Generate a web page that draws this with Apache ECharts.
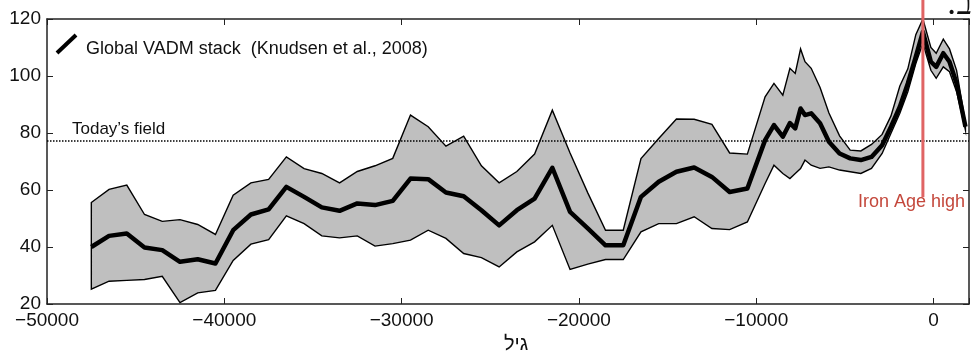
<!DOCTYPE html>
<html>
<head>
<meta charset="utf-8">
<script src="https://cdn.jsdelivr.net/npm/echarts@6/dist/echarts.min.js"></script>
<style>
  html, body { margin: 0; padding: 0; background: #fff; }
  #chart { width: 975px; height: 351px; }
</style>
</head>
<body>
<div id="chart"></div>
<script>
// age (years)
const ages = [
  -47500, -46500, -45500, -44500, -43500, -42500, -41500, -40500, -39500, -38500,
  -37500, -36500, -35500, -34500, -33500, -32500, -31500, -30500, -29500, -28500,
  -27500, -26500, -25500, -24500, -23500, -22500, -21500, -20500, -19500, -18500,
  -17500, -16500, -15500, -14500, -13500, -12500, -11500, -10500, -9500, -9000,
  -8500, -8100, -7800, -7500, -7250, -6900, -6400, -5900, -5300, -4700,
  -4100, -3500, -2900, -2400, -1900, -1450, -1000, -600, -150, 150,
  550, 900, 1300, 1800
];
// global VADM stack, mean
const vadmMean = [
  40, 43.9, 44.7, 39.8, 38.9, 34.8, 35.7, 34.2, 45.9, 51.4,
  53.2, 61.1, 57.6, 53.9, 52.7, 55.3, 54.7, 56.2, 64, 63.8,
  59.1, 57.8, 52.9, 47.6, 52.9, 57, 67.8, 52.3, 46.5, 40.6,
  40.6, 57.6, 62.9, 66.4, 67.9, 64.6, 59.3, 60.5, 77.5, 82.8,
  78.7, 83.5, 81.6, 88.6, 86.3, 86.9, 83.4, 76.9, 72.8, 71.1,
  70.5, 71.6, 75.7, 82.2, 89.2, 97.4, 106.8, 115.5, 105, 103.2,
  108, 105, 97.4, 82.2
];
// upper envelope
const vadmUpper = [
  55.6, 60.2, 61.7, 51.4, 49, 49.6, 47.9, 44.4, 58.2, 62.5,
  63.7, 71.6, 67.5, 65.8, 62.5, 66.5, 68.5, 71.1, 86.3, 82.2,
  75.4, 78.9, 68.5, 62.5, 66.5, 72.6, 88, 73, 59, 45.9,
  45.9, 71, 78.1, 84.9, 84.8, 83, 73, 72.6, 92.7, 97.4,
  93.3, 102.7, 100.9, 109.5, 105, 102.7, 96, 87, 79, 74,
  73.7, 76, 79.5, 86, 96.5, 102.5, 114.5, 120, 110, 108,
  112.9, 109.5, 102, 83.4
];
// lower envelope
const vadmLower = [
  25.2, 28, 28.3, 28.6, 29.7, 20.5, 23.9, 24.8, 35.3, 41,
  42.6, 50.9, 48.2, 43.9, 43.2, 43.9, 40.3, 41.2, 42.4, 45.9,
  43, 37.7, 36.3, 33, 38.3, 41.8, 47.6, 32.1, 34, 35.6,
  35.6, 45.3, 48.2, 48.2, 50.6, 46.5, 46.1, 48.8, 62.3, 68.7,
  65.8, 64, 65.8, 67.5, 70.5, 68.7, 67.6, 68.1, 67, 66.4,
  65.8, 67.6, 72.8, 79.9, 86.9, 94.5, 104.4, 111.5, 102, 99.2,
  103.2, 101.5, 94.5, 81
];
const todayField = 77.2;
const ironAgeHigh = -600;
const ironAgeLine = [57.5, 127];
const xTicks = [-50000, -40000, -30000, -20000, -10000, 0];
const yTicks = [20, 40, 60, 80, 100, 120];

const font = "'Liberation Sans', Arial, sans-serif";
const chart = echarts.init(document.getElementById("chart"));

const frameAxis = {
  axisLine: { show: true, onZero: false, lineStyle: { color: "#222", width: 1.5 } },
  axisTick: { show: true, inside: true, length: 6, lineStyle: { color: "#222", width: 1 } },
  splitLine: { show: false },
};

chart.setOption({
  animation: false,
  grid: { left: 47, right: 6, top: 19, bottom: 47, outerBoundsMode: "none", containLabel: false },
  xAxis: [
    {
      type: "value", min: -50000, max: 2000, interval: 10000,
      ...frameAxis,
      axisLabel: {
        color: "#111", fontSize: 19, fontFamily: font, margin: 7,
        formatter: (v) => (xTicks.includes(v) ? String(v).replace("-", "\u2212") : ""),
      },
      name: "גיל", nameLocation: "middle", nameGap: 21,
      nameTextStyle: { fontSize: 20, fontFamily: font, color: "#111", padding: [0, 0, 0, 16] },
    },
    {
      type: "value", position: "top", min: -50000, max: 2000, interval: 10000,
      ...frameAxis, axisLabel: { show: false },
    },
  ],
  yAxis: [
    {
      type: "value", min: 20, max: 120, interval: 20,
      ...frameAxis,
      axisLabel: {
        color: "#111", fontSize: 19, fontFamily: font, margin: 6,
        formatter: (v) => (yTicks.includes(v) ? String(v) : ""),
      },
    },
    {
      type: "value", position: "right", min: 20, max: 120, interval: 20,
      ...frameAxis, axisLabel: { show: false },
    },
  ],
  series: [
    {
      type: "custom",
      data: [[ages[0], vadmLower[0]]],
      z: 2,
      renderItem: (params, api) => {
        const pts = [];
        ages.forEach((a, i) => pts.push(api.coord([a, vadmUpper[i]])));
        for (let i = ages.length - 1; i >= 0; i--) pts.push(api.coord([ages[i], vadmLower[i]]));
        return {
          type: "polygon",
          shape: { points: pts },
          style: { fill: "#bfbfbf", stroke: "#000", lineWidth: 1.4, lineJoin: "miter" },
        };
      },
    },
    {
      type: "line",
      data: ages.map((a, i) => [a, vadmMean[i]]),
      showSymbol: false,
      z: 3,
      lineStyle: { color: "#000", width: 4.5, join: "round" },
    },
    {
      type: "line",
      data: [[-50000, todayField], [2000, todayField]],
      showSymbol: false,
      z: 4,
      lineStyle: { color: "#000", width: 1.5, type: [1.5, 1.5] },
    },
    {
      type: "line",
      data: [[ironAgeHigh, ironAgeLine[0]], [ironAgeHigh, ironAgeLine[1]]],
      showSymbol: false,
      clip: false,
      z: 5,
      lineStyle: { color: "#e06464", width: 3 },
    },
  ],
  graphic: [
    {
      type: "line",
      shape: { x1: 57, y1: 53, x2: 76, y2: 35 },
      style: { stroke: "#000", lineWidth: 4 },
    },
    {
      type: "text", left: 86, top: 40,
      style: { text: "Global VADM stack  (Knudsen et al., 2008)", font: "18px " + font, fill: "#111" },
    },
    {
      type: "text", left: 72, top: 121,
      style: { text: "Today\u2019s field", font: "17px " + font, fill: "#111" },
    },
    {
      type: "text", left: 858, top: 193,
      style: { text: "Iron Age high", font: "18px " + font, fill: "#c4483c" },
    },
    {
      type: "text", right: 3, top: -10,
      style: { text: ".ב", font: "32px 'DejaVu Serif', 'Liberation Serif', serif", fill: "#111" },
    },
  ],
});
</script>
</body>
</html>
